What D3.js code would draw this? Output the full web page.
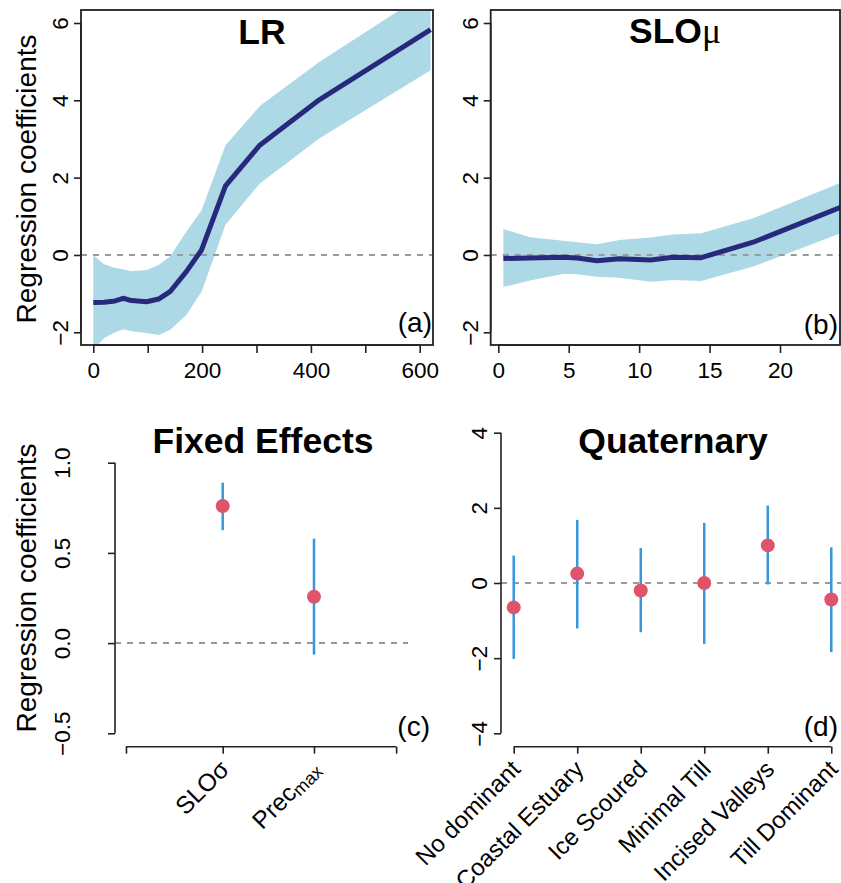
<!DOCTYPE html>
<html>
<head>
<meta charset="utf-8">
<script src="https://cdn.jsdelivr.net/npm/d3@7"></script>
<style>
  body { margin: 0; background: #fff; }
  svg text { font-family: "Liberation Sans", Arial, Helvetica, sans-serif; fill: #000; }
  .title { font-size: 35.5px; font-weight: bold; }
  .ylab { font-size: 28px; }
  .plab { font-size: 28px; }
</style>
</head>
<body>
<svg id="chart"></svg>
<script>
// (a) LR smooth term
var lrX     = [0, 20, 40, 55, 70, 98, 120, 141, 171, 199, 243, 306, 416, 620];
var lrFit   = [-1.23, -1.22, -1.19, -1.12, -1.18, -1.21, -1.14, -0.95, -0.43, 0.13, 1.79, 2.84, 4.02, 5.83];
var lrUpper = [0.0, -0.24, -0.34, -0.37, -0.42, -0.39, -0.26, -0.04, 0.6, 1.16, 2.84, 3.85, 5.0, 6.85];
var lrLower = [-2.45, -2.15, -2.0, -1.92, -1.97, -2.02, -2.07, -1.94, -1.55, -0.95, 0.78, 1.85, 3.02, 4.78];

// (b) SLO mu smooth term
var sloX     = [0.36, 2.25, 4.6, 5.6, 7.0, 8.6, 10.8, 12.4, 14.4, 18.1, 24.3];
var sloFit   = [-0.09, -0.08, -0.06, -0.08, -0.15, -0.1, -0.13, -0.06, -0.07, 0.33, 1.23];
var sloUpper = [0.67, 0.46, 0.37, 0.33, 0.28, 0.39, 0.45, 0.53, 0.56, 0.95, 1.87];
var sloLower = [-0.83, -0.66, -0.49, -0.5, -0.56, -0.59, -0.69, -0.65, -0.67, -0.3, 0.56];

// (c) fixed effects
var fixedLabel    = ["SLOσ", "Prec"];
var fixedLabelSub = ["", "max"];
var fixedEst = [0.76, 0.257];
var fixedLo  = [0.626, -0.064];
var fixedHi  = [0.889, 0.579];

// (d) quaternary
var quatNames = ["No dominant", "Coastal Estuary", "Ice Scoured", "Minimal Till", "Incised Valleys", "Till Dominant"];
var quatEst = [-0.65, 0.25, -0.2, 0.0, 1.0, -0.44];
var quatLo  = [-2.02, -1.21, -1.31, -1.62, -0.04, -1.84];
var quatHi  = [0.73, 1.68, 0.93, 1.6, 2.06, 0.95];

var W = 841, H = 883;
var BAND = "#ADD8E6", LINE = "#28297c", DASH = "#9a9a9a", PT = "#DF536B", BAR = "#3598DB";

var svg = d3.select("#chart").attr("width", W).attr("height", H);
svg.append("rect").attr("width", W).attr("height", H).attr("fill", "#fff");

function yAxis(x0, y, ticks, fmt, off) {
    var ax = svg.append("g").attr("transform", "translate(" + x0 + ",0)")
        .call(d3.axisLeft(y).tickValues(ticks).tickFormat(fmt).tickSize(7).tickSizeOuter(0));
    ax.attr("font-size", 22.5).attr("font-family", null);
    ax.select(".domain").remove();
    ax.append("line")
        .attr("y1", y(ticks[0])).attr("y2", y(ticks[ticks.length - 1]))
        .attr("stroke", "#222").attr("stroke-width", 1.6);
    ax.selectAll(".tick line").attr("stroke", "#222").attr("stroke-width", 1.6);
    ax.selectAll(".tick text")
        .attr("x", 0).attr("y", -off).attr("dy", 0)
        .attr("transform", "rotate(-90)")
        .attr("text-anchor", "middle");
    return ax;
}

function xAxis(y0, x, ticks, fmt) {
    var ax = svg.append("g").attr("transform", "translate(0," + y0 + ")")
        .call(d3.axisBottom(x).tickValues(ticks).tickFormat(fmt).tickSize(8).tickPadding(9.5).tickSizeOuter(0));
    ax.attr("font-size", 22.5).attr("font-family", null);
    ax.select(".domain").remove();
    ax.append("line")
        .attr("x1", x(ticks[0])).attr("x2", x(ticks[ticks.length - 1]))
        .attr("stroke", "#222").attr("stroke-width", 1.6);
    ax.selectAll(".tick line").attr("stroke", "#222").attr("stroke-width", 1.6);
    return ax;
}

function smoothPanel(id, box, x, y, xs, fit, lo, hi, xTicks, xFmt, labOff) {
    svg.append("clipPath").attr("id", id)
        .append("rect").attr("x", box.l).attr("y", box.t)
        .attr("width", box.r - box.l).attr("height", box.b - box.t);
    var g = svg.append("g").attr("clip-path", "url(#" + id + ")");
    var idx = d3.range(xs.length);
    g.append("path")
        .attr("d", d3.area().x(function(i) { return x(xs[i]); })
            .y0(function(i) { return y(lo[i]); })
            .y1(function(i) { return y(hi[i]); })(idx))
        .attr("fill", BAND);
    g.append("line").attr("x1", box.l).attr("x2", box.r)
        .attr("y1", y(0)).attr("y2", y(0))
        .attr("stroke", DASH).attr("stroke-width", 2).attr("stroke-dasharray", "6,6");
    g.append("path")
        .attr("d", d3.line().x(function(i) { return x(xs[i]); })
            .y(function(i) { return y(fit[i]); })(idx))
        .attr("fill", "none").attr("stroke", LINE).attr("stroke-width", 5)
        .attr("stroke-linejoin", "round");
    svg.append("rect").attr("x", box.l).attr("y", box.t)
        .attr("width", box.r - box.l).attr("height", box.b - box.t)
        .attr("fill", "none").attr("stroke", "#222").attr("stroke-width", 1.8);
    yAxis(box.l, y, [-2, 0, 2, 4, 6], function(d) { return d < 0 ? "\u2212" + (-d) : d; }, labOff);
    xAxis(box.b, x, xTicks, xFmt);
    return g;
}

// ---- (a) ----
var boxA = {l: 81, r: 433, t: 10, b: 345};
var xA = d3.scaleLinear().domain([0, 600]).range([93.3, 419.7]);
var yAB = d3.scaleLinear().domain([-2, 6]).range([332.3, 23]);
smoothPanel("clipA", boxA, xA, yAB, lrX, lrFit, lrLower, lrUpper,
    [0, 100, 200, 300, 400, 500, 600], function(d) { return d % 200 === 0 ? d : ""; }, 13);
svg.append("text").attr("class", "title").attr("x", 262).attr("y", 43.5)
    .attr("text-anchor", "middle").text("LR");
svg.append("text").attr("class", "plab").attr("x", 432).attr("y", 332)
    .attr("text-anchor", "end").text("(a)");
svg.append("text").attr("class", "ylab").attr("transform", "translate(36,179) rotate(-90)")
    .attr("text-anchor", "middle").text("Regression coefficients");

// ---- (b) ----
var boxB = {l: 490.7, r: 840, t: 10, b: 345};
var xB = d3.scaleLinear().domain([0, 20]).range([498.3, 780]);
smoothPanel("clipB", boxB, xB, yAB, sloX, sloFit, sloLower, sloUpper,
    [0, 5, 10, 15, 20], function(d) { return d; }, 12.7);
var tB = svg.append("text").attr("class", "title").attr("x", 675).attr("y", 43)
    .attr("text-anchor", "middle");
tB.append("tspan").text("SLO");
tB.append("tspan").attr("font-family", "'Liberation Serif', 'DejaVu Serif', serif")
    .attr("font-weight", "normal").text("\u03bc");
svg.append("text").attr("class", "plab").attr("x", 838).attr("y", 334)
    .attr("text-anchor", "end").text("(b)");

// ---- (c) ----
var axisYc = 746.7;
var xC = d3.scaleLinear().domain([-0.18, 3.03]).range([115, 408]);
var yC = d3.scaleLinear().domain([-0.5, 1.0]).range([733.3, 462.7]);
svg.append("line").attr("x1", xC.range()[0]).attr("x2", xC.range()[1])
    .attr("y1", yC(0)).attr("y2", yC(0))
    .attr("stroke", DASH).attr("stroke-width", 2).attr("stroke-dasharray", "6,6");
yAxis(115, yC, [-0.5, 0, 0.5, 1.0], function(d) { return d < 0 ? "\u2212" + d3.format(".1f")(-d) : d3.format(".1f")(d); }, 45);
var axC = xAxis(axisYc, xC, [-0.06, 1, 2, 2.9], function() { return ""; });
axC.selectAll(".tick line").attr("y2", 7);
var gc = svg.append("g");
fixedEst.forEach(function(v, i) {
    gc.append("line").attr("x1", xC(i + 1)).attr("x2", xC(i + 1))
        .attr("y1", yC(fixedLo[i])).attr("y2", yC(fixedHi[i]))
        .attr("stroke", BAR).attr("stroke-width", 2.5);
    gc.append("circle").attr("cx", xC(i + 1)).attr("cy", yC(v)).attr("r", 7).attr("fill", PT);
    var t = gc.append("text").attr("font-size", 24.5)
        .attr("transform", "translate(" + (xC(i + 1) + 2) + "," + (axisYc + 18) + ") rotate(-45)")
        .attr("text-anchor", "end").attr("dy", "0.35em");
    t.append("tspan").text(fixedLabel[i]);
    if (fixedLabelSub[i]) t.append("tspan").attr("font-size", 18).attr("dy", 3).text(fixedLabelSub[i]);
});
svg.append("text").attr("class", "title").attr("x", 263).attr("y", 453.3)
    .attr("text-anchor", "middle").text("Fixed Effects");
svg.append("text").attr("class", "plab").attr("x", 430).attr("y", 735.5)
    .attr("text-anchor", "end").text("(c)");
svg.append("text").attr("class", "ylab").attr("transform", "translate(36,588) rotate(-90)")
    .attr("text-anchor", "middle").text("Regression coefficients");

// ---- (d) ----
var axisYd = 746.7;
var xD = d3.scaleLinear().domain([0.8, 6.2]).range([501, 844]);
var yD = d3.scaleLinear().domain([-4, 4]).range([733.3, 432.7]);
svg.append("line").attr("x1", 501).attr("x2", W)
    .attr("y1", yD(0)).attr("y2", yD(0))
    .attr("stroke", DASH).attr("stroke-width", 2).attr("stroke-dasharray", "6,6");
yAxis(501, yD, [-4, -2, 0, 2, 4], function(d) { return d < 0 ? "\u2212" + (-d) : d; }, 14.4);
var axD = xAxis(axisYd, xD, d3.range(1, quatNames.length + 1), function() { return ""; });
axD.selectAll(".tick line").attr("y2", 7);
var gd = svg.append("g");
quatEst.forEach(function(v, i) {
    gd.append("line").attr("x1", xD(i + 1)).attr("x2", xD(i + 1))
        .attr("y1", yD(quatLo[i])).attr("y2", yD(quatHi[i]))
        .attr("stroke", BAR).attr("stroke-width", 2.5);
    gd.append("circle").attr("cx", xD(i + 1)).attr("cy", yD(v)).attr("r", 7).attr("fill", PT);
    gd.append("text").attr("font-size", 24)
        .attr("transform", "translate(" + (xD(i + 1) + 2) + "," + (axisYd + 18) + ") rotate(-45)")
        .attr("text-anchor", "end").attr("dy", "0.35em").text(quatNames[i]);
});
svg.append("text").attr("class", "title").attr("x", 673).attr("y", 453.3)
    .attr("text-anchor", "middle").text("Quaternary");
svg.append("text").attr("class", "plab").attr("x", 838).attr("y", 735.5)
    .attr("text-anchor", "end").text("(d)");
</script>
</body>
</html>
